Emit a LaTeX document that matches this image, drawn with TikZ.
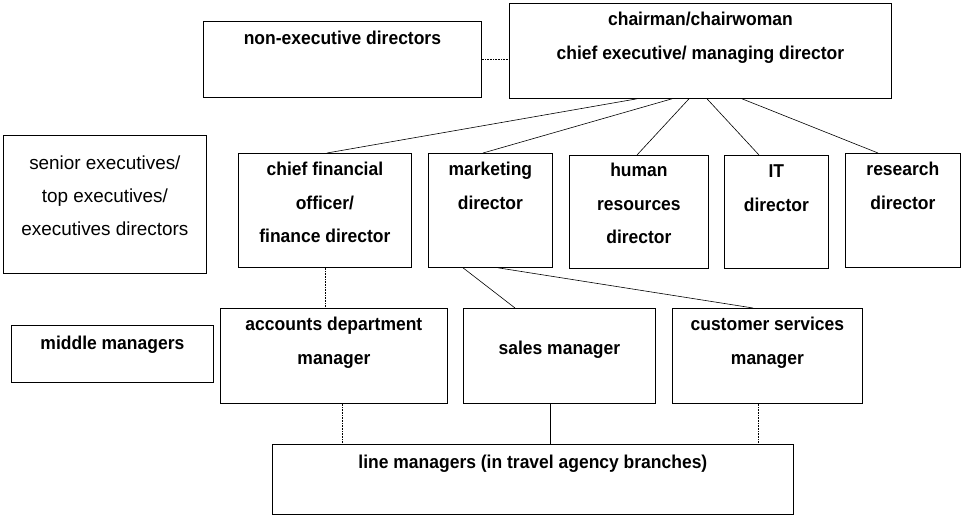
\documentclass[tikz,border=0pt]{standalone}
\usepackage{fontspec}
\setmainfont{Liberation Sans}
\newfontfamily\bcond{Liberation Sans}[FakeStretch=0.94]
\newcommand\mystrut{\rule{0pt}{14pt}}
\begin{document}
\begin{tikzpicture}[x=1pt,y=-1pt,
  box/.style={draw=black, line width=0.8pt, rectangle, inner sep=0pt, anchor=north west, fill=white},
  txt/.style={anchor=north, inner sep=0pt, align=center, font=\bcond\bfseries\fontsize{18.6}{33.5}\selectfont},
  rtxt/.style={anchor=north, inner sep=0pt, align=center, font=\fontsize{18.9}{33}\selectfont},
  conn/.style={draw=black, line width=0.6pt},
  dconn/.style={draw=black, line width=0.6pt, densely dotted}]
\path[use as bounding box, fill=white] (0,0) rectangle (970,517);

\node[box, minimum width=278pt, minimum height=76pt,
  label={[txt, yshift=-9.4pt]north:{\mystrut non-executive directors}}] (nonexec) at (203,21) {};
\node[box, minimum width=382pt, minimum height=95pt,
  label={[txt, yshift=-8.4pt]north:{\mystrut chairman/chairwoman\\chief executive/ managing director}}] (chair) at (509,3) {};

\node[box, minimum width=203pt, minimum height=138pt,
  label={[rtxt, yshift=-19.9pt]north:{\mystrut senior executives/\\top executives/\\executives directors}}] (senior) at (3,135) {};
\node[box, minimum width=173pt, minimum height=114pt,
  label={[txt, yshift=-8.4pt]north:{\mystrut chief financial\\officer/\\finance director}}] (cfo) at (238,153) {};
\node[box, minimum width=124pt, minimum height=114pt,
  label={[txt, yshift=-8.4pt]north:{\mystrut marketing\\director}}] (mkt) at (428,153) {};
\node[box, minimum width=139pt, minimum height=113pt,
  label={[txt, yshift=-7.4pt]north:{\mystrut human\\resources\\director}}] (hr) at (569,155) {};
\node[box, minimum width=104pt, minimum height=113pt,
  label={[txt, yshift=-8.4pt]north:{\mystrut IT\\director}}] (it) at (724,155) {};
\node[box, minimum width=115pt, minimum height=114pt,
  label={[txt, yshift=-8.4pt]north:{\mystrut research\\director}}] (res) at (845,153) {};

\node[box, minimum width=202pt, minimum height=57pt,
  label={[txt, yshift=-10.4pt]north:{\mystrut middle managers}}] (middle) at (11,325) {};
\node[box, minimum width=227pt, minimum height=95pt,
  label={[txt, yshift=-8.4pt]north:{\mystrut accounts department\\manager}}] (acc) at (220,308) {};
\node[box, minimum width=192pt, minimum height=95pt,
  label={[txt, yshift=-32.4pt]north:{\mystrut sales manager}}] (sales) at (463,308) {};
\node[box, minimum width=190pt, minimum height=95pt,
  label={[txt, yshift=-8.4pt]north:{\mystrut customer services\\manager}}] (cust) at (672,308) {};

\node[box, minimum width=521pt, minimum height=70pt,
  label={[txt, yshift=-10.4pt]north:{\mystrut line managers (in travel agency branches)}}] (line) at (272,444) {};

% connectors
\draw[dconn] (nonexec.east) -- (nonexec.east -| chair.west);
\draw[conn] ([xshift=128pt]chair.south west) -- ([xshift=89pt]cfo.north west);
\draw[conn] ([xshift=163pt]chair.south west) -- ([xshift=55pt]mkt.north west);
\draw[conn] ([xshift=180pt]chair.south west) -- ([xshift=68pt]hr.north west);
\draw[conn] ([xshift=198pt]chair.south west) -- ([xshift=35pt]it.north west);
\draw[conn] ([xshift=233pt]chair.south west) -- ([xshift=33pt]res.north west);
\draw[dconn] ([xshift=87pt]cfo.south west) -- ([xshift=105pt]acc.north west);
\draw[conn] ([xshift=35pt]mkt.south west) -- ([xshift=52pt]sales.north west);
\draw[conn] ([xshift=70pt]mkt.south west) -- ([xshift=81pt]cust.north west);
\draw[dconn] ([xshift=122pt]acc.south west) -- ([xshift=70pt]line.north west);
\draw[conn] ([xshift=87pt]sales.south west) -- ([xshift=278pt]line.north west);
\draw[dconn] ([xshift=86pt]cust.south west) -- ([xshift=486pt]line.north west);
\end{tikzpicture}
\end{document}
